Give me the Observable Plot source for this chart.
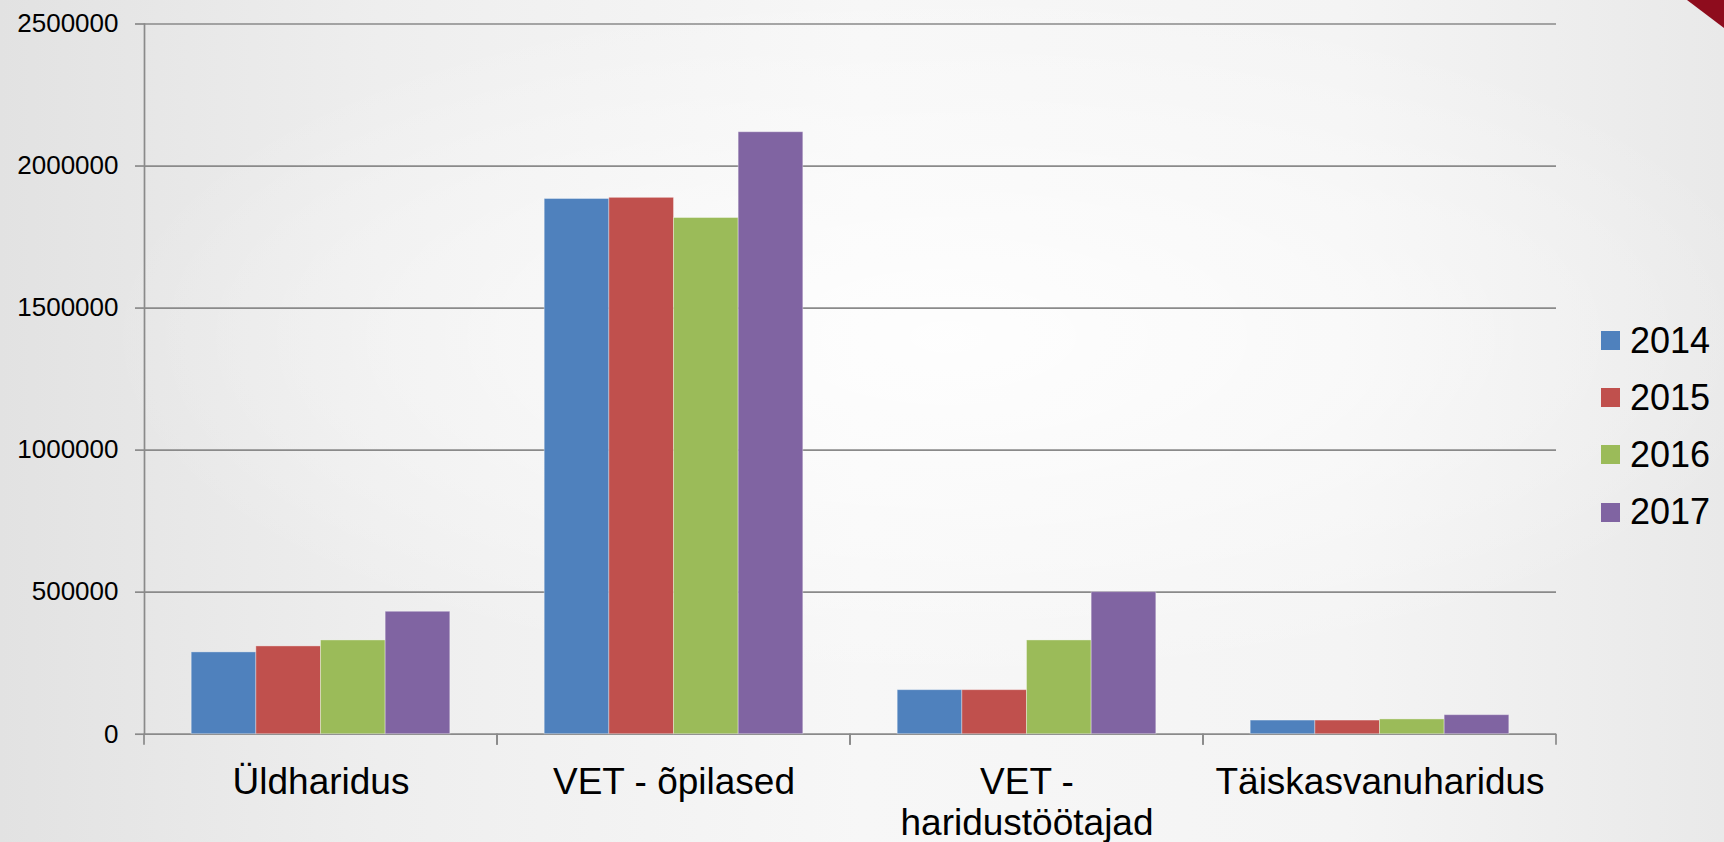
<!DOCTYPE html>
<html>
<head>
<meta charset="utf-8">
<script src="https://cdn.jsdelivr.net/npm/d3@7"></script>
<script src="https://cdn.jsdelivr.net/npm/@observablehq/plot@0.6"></script>
<style>
html, body { margin: 0; padding: 0; }
body {
  width: 1724px; height: 842px; overflow: hidden; position: relative;
  font-family: "Liberation Sans", Arial, sans-serif;
  background:
    radial-gradient(ellipse 70% 60% at 55% 40%, rgba(255,255,255,0.85) 0%, rgba(255,255,255,0) 70%),
    linear-gradient(90deg, #e2e2e2 0%, #eeeeee 22%, #f7f7f7 50%, #f4f4f4 78%, #e9e9e9 100%);
}
#chart { position: absolute; left: 0; top: 0; }
#legend { position: absolute; left: 1601px; top: 311.6px; }
.row { display: flex; align-items: center; height: 57.3px; }
.sw { width: 19px; height: 19px; margin-right: 10px; }
.lbl { font-size: 36px; line-height: 57.3px; color: #000; }
.corner { position: absolute; right: 0; top: 0; width: 37px; height: 28px; background: #8e0c1d;
  clip-path: polygon(0 0, 100% 0, 100% 100%); }
</style>
</head>
<body>
<div id="chart"></div>
<div id="legend"></div>
<div class="corner"></div>
<script>
const categories = ["Üldharidus", "VET - õpilased", "VET - haridustöötajad", "Täiskasvanuharidus"];
const categoryLabels = ["Üldharidus", "VET - õpilased", "VET -\nharidustöötajad", "Täiskasvanuharidus"];
const years = ["2014", "2015", "2016", "2017"];
const values2014 = [288000, 1884000, 155000, 48000];
const values2015 = [309000, 1888000, 155000, 48000];
const values2016 = [330000, 1817000, 330000, 52000];
const values2017 = [431000, 2119000, 500000, 67000];
const colors = ["#4F81BD", "#C0504D", "#9BBB59", "#8064A2"];
const yTicks = [0, 500000, 1000000, 1500000, 2000000, 2500000];

const series = [values2014, values2015, values2016, values2017];
const table = [];
categories.forEach((c, i) => years.forEach((yr, j) => table.push({category: c, year: yr, value: series[j][i]})));

const gray = "#8a8a8a";

function boundaryTicks(index, scales, values, dimensions, context) {
  const {x, y} = scales;
  const [x0, x1] = x.range();
  const y0 = y(0);
  const g = d3.create("svg:g").attr("stroke", gray).attr("stroke-width", 1.7);
  for (const xx of [x0, x1]) {
    g.append("line").attr("x1", xx).attr("x2", xx).attr("y1", y0).attr("y2", y0 + 11);
  }
  return g.node();
}

const plot = Plot.plot({
  width: 1724,
  height: 842,
  marginTop: 23.5,
  marginBottom: 108.3,
  marginLeft: 143.5,
  marginRight: 167,
  style: {background: "transparent", fontFamily: "'Liberation Sans', Arial, sans-serif", color: "#000"},
  fx: {domain: categories, padding: 0, label: null},
  x: {domain: years, paddingInner: 0, paddingOuter: 0.73, round: false, axis: null},
  y: {domain: [0, 2500000], axis: null},
  color: {domain: years, range: colors},
  marks: [
    Plot.gridY(yTicks, {stroke: gray, strokeOpacity: 1, strokeWidth: 1.7}),
    Plot.barY(table, {fx: "category", x: "year", y: "value", fill: "year", stroke: "white", strokeOpacity: 0.35, strokeWidth: 1}),
    Plot.axisY(yTicks, {tickSize: 9, tickPadding: 17, fontSize: 26, fill: "#000", stroke: gray, strokeWidth: 1.7, tickFormat: d => String(d), label: null}),
    Plot.axisFx({anchor: "bottom", tickSize: 0, tickPadding: 31, fontSize: 37, lineHeight: 1.1, fill: "#000", tickFormat: c => categoryLabels[categories.indexOf(c)], label: null}),
    Plot.frame({anchor: "left", facetAnchor: "left", stroke: gray, strokeWidth: 1.7}),
    boundaryTicks
  ]
});
document.getElementById("chart").appendChild(plot);

const legend = document.getElementById("legend");
years.forEach((yr, j) => {
  const row = document.createElement("div");
  row.className = "row";
  const sw = document.createElement("div");
  sw.className = "sw";
  sw.style.background = colors[j];
  const lbl = document.createElement("div");
  lbl.className = "lbl";
  lbl.textContent = yr;
  row.appendChild(sw);
  row.appendChild(lbl);
  legend.appendChild(row);
});
</script>
</body>
</html>
